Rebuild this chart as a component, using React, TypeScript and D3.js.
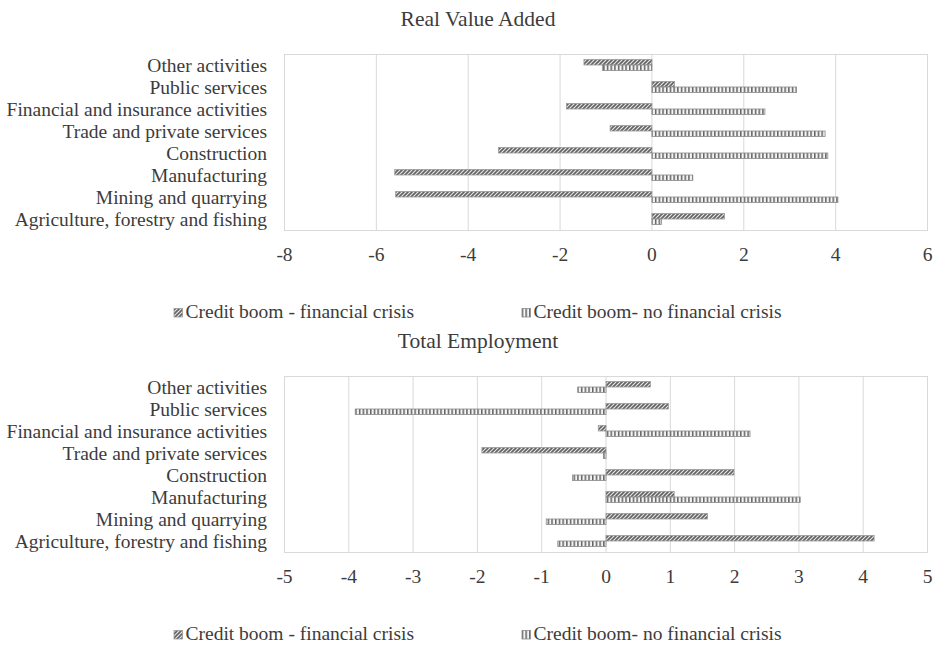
import React from "react";
import * as d3 from "d3";

const categories = [
  "Other activities",
  "Public services",
  "Financial and insurance activities",
  "Trade and private services",
  "Construction",
  "Manufacturing",
  "Mining and quarrying",
  "Agriculture, forestry and fishing",
];
const seriesKeys = ["crisis", "noCrisis"];
const seriesLabels = ["Credit boom - financial crisis", "Credit boom- no financial crisis"];

const vaCrisis = [-1.48, 0.49, -1.86, -0.91, -3.34, -5.6, -5.58, 1.58];
const vaNoCrisis = [-1.08, 3.15, 2.46, 3.77, 3.83, 0.89, 4.05, 0.21];
const empCrisis = [0.69, 0.97, -0.12, -1.93, 1.99, 1.06, 1.58, 4.17];
const empNoCrisis = [-0.44, -3.9, 2.24, -0.04, -0.52, 3.02, -0.93, -0.75];

const vaTicks = [-8, -6, -4, -2, 0, 2, 4, 6];
const empTicks = [-5, -4, -3, -2, -1, 0, 1, 2, 3, 4, 5];

const FONT = "'Liberation Serif', 'Times New Roman', serif";
const TXT = "#3c3c3c";

type PanelProps = {
  title: string;
  titleY: number;
  top: number;
  bottom: number;
  ticks: number[];
  crisis: number[];
  noCrisis: number[];
  legendY: number;
};

function Panel({ title, titleY, top, bottom, ticks, crisis, noCrisis, legendY }: PanelProps) {
  const left = 284.5;
  const right = 927.5;
  const x = d3.scaleLinear().domain([ticks[0], ticks[ticks.length - 1]]).range([left, right]);
  const y = d3.scaleBand().domain(categories).range([top, bottom]).paddingInner(0.5).paddingOuter(0.25);
  const ySub = d3.scaleBand().domain(seriesKeys).range([0, y.bandwidth()]);
  const step = y.step();
  const rows = categories.map((c, i) => ({ c, vals: [crisis[i], noCrisis[i]] }));
  const fills = ["url(#diag)", "url(#vert)"];
  const strokes = ["#9a9a9a", "#8a8a8a"];
  return (
    <g>
      <text x={478} y={titleY} textAnchor="middle" fontFamily={FONT} fontSize={21.5} fill={TXT}>
        {title}
      </text>
      {ticks.map((t) => (
        <line key={t} x1={x(t)} x2={x(t)} y1={top} y2={bottom} stroke="#d9d9d9" strokeWidth={1} />
      ))}
      <rect x={left} y={top + 0.5} width={right - left} height={bottom - top} fill="none" stroke="#d9d9d9" />
      {rows.map((r) => (
        <g key={r.c}>
          {r.vals.map((v, j) => {
            const x0 = x(Math.min(0, v));
            const w = Math.abs(x(v) - x(0));
            return (
              <rect
                key={j}
                x={x0}
                y={(y(r.c) as number) + (ySub(seriesKeys[j]) as number)}
                width={w}
                height={ySub.bandwidth()}
                fill={fills[j]}
                stroke={strokes[j]}
                strokeWidth={0.8}
              />
            );
          })}
          <text
            x={267}
            y={(y(r.c) as number) + y.bandwidth() / 2 + 6.5}
            textAnchor="end"
            fontFamily={FONT}
            fontSize={19.5}
            fill={TXT}
          >
            {r.c}
          </text>
        </g>
      ))}
      {ticks.map((t) => (
        <text key={"l" + t} x={x(t)} y={bottom + 31} textAnchor="middle" fontFamily={FONT} fontSize={19.5} fill={TXT}>
          {t}
        </text>
      ))}
      {seriesLabels.map((s, j) => {
        const ix = j === 0 ? 174 : 522;
        return (
          <g key={s}>
            <rect x={ix} y={legendY - 9.5} width={8.5} height={8.5} fill={fills[j]} stroke={strokes[j]} strokeWidth={0.8} />
            <text x={ix + 11.5} y={legendY} fontFamily={FONT} fontSize={19.5} fill={TXT}>
              {s}
            </text>
          </g>
        );
      })}
    </g>
  );
}

export default function App() {
  return (
    <svg
      width={944}
      height={645}
      style={{ position: "absolute", left: 0, top: 0, background: "#fff" }}
    >
      <defs>
        <pattern id="diag" patternUnits="userSpaceOnUse" width={4} height={4}>
          <rect width={4} height={4} fill="#e4e4e4" />
          <path d="M-1,1 l2,-2 M0,4 l4,-4 M3,5 l2,-2" stroke="#626262" strokeWidth={1.6} />
        </pattern>
        <pattern id="vert" patternUnits="userSpaceOnUse" width={3.7} height={10}>
          <rect width={3.7} height={10} fill="#f4f4f4" />
          <rect x={0} y={0} width={1.5} height={10} fill="#626262" />
        </pattern>
      </defs>
      <rect width={944} height={645} fill="#fff" />
      <Panel
        title="Real Value Added"
        titleY={26}
        top={54}
        bottom={230}
        ticks={vaTicks}
        crisis={vaCrisis}
        noCrisis={vaNoCrisis}
        legendY={318}
      />
      <Panel
        title="Total Employment"
        titleY={348}
        top={376}
        bottom={552}
        ticks={empTicks}
        crisis={empCrisis}
        noCrisis={empNoCrisis}
        legendY={640}
      />
    </svg>
  );
}
